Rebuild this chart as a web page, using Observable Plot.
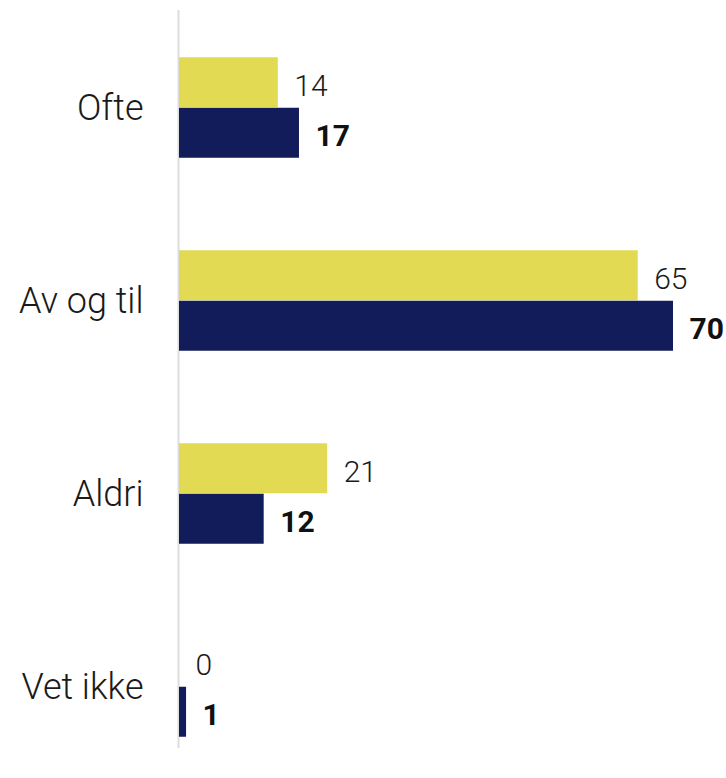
<!DOCTYPE html>
<html><head><meta charset="utf-8">
<script src="https://cdn.jsdelivr.net/npm/d3@7"></script>
<script src="https://cdn.jsdelivr.net/npm/@observablehq/plot@0.6"></script>
<style>
html,body{margin:0;padding:0;background:#fff;overflow:hidden}
#chart svg [aria-label="y-axis tick label"] text{font-size:36px;font-weight:300;fill:#1a1a1a}
</style>
</head><body><div id="chart"></div>
<script>
const categories = ["Ofte", "Av og til", "Aldri", "Vet ikke"];
const seriesYellow = [14, 65, 21, 0];
const seriesNavy = [17, 70, 12, 1];

const rowsYellow = categories.map((c, i) => ({category: c, value: seriesYellow[i]}));
const rowsNavy = categories.map((c, i) => ({category: c, value: seriesNavy[i]}));

const chart = Plot.plot({
  width: 726,
  height: 778,
  marginLeft: 179,
  marginRight: 53,
  marginTop: 10,
  marginBottom: 30,
  style: {fontFamily: "Roboto", background: "#fff", color: "#1a1a1a"},
  x: {domain: [0, 70], axis: null},
  y: {domain: categories, range: [10, 784], padding: 0, label: null, axis: null},
  marks: [
    Plot.ruleX([0], {stroke: "#dddddd", strokeWidth: 2, dx: -1}),
    Plot.barX(rowsYellow, {x: "value", y: "category", fill: "#E2DA52", insetTop: 46.25, insetBottom: 96.75}),
    Plot.barX(rowsNavy, {x: "value", y: "category", fill: "#131C5A", insetTop: 96.75, insetBottom: 46.25}),
    Plot.text(rowsYellow, {x: "value", y: "category", text: d => String(d.value), textAnchor: "start", dx: 16, dy: -22, fontSize: 30, fontWeight: 300, fill: "#1a1a1a"}),
    Plot.text(rowsNavy, {x: "value", y: "category", text: d => String(d.value), textAnchor: "start", dx: 16, dy: 28, fontSize: 30, fontWeight: 700, fill: "#111"}),
    Plot.axisY({tickSize: 0, tickPadding: 36, fontSize: 36, fontWeight: 300, label: null})
  ]
});
document.getElementById("chart").appendChild(chart);
</script>
</body></html>
